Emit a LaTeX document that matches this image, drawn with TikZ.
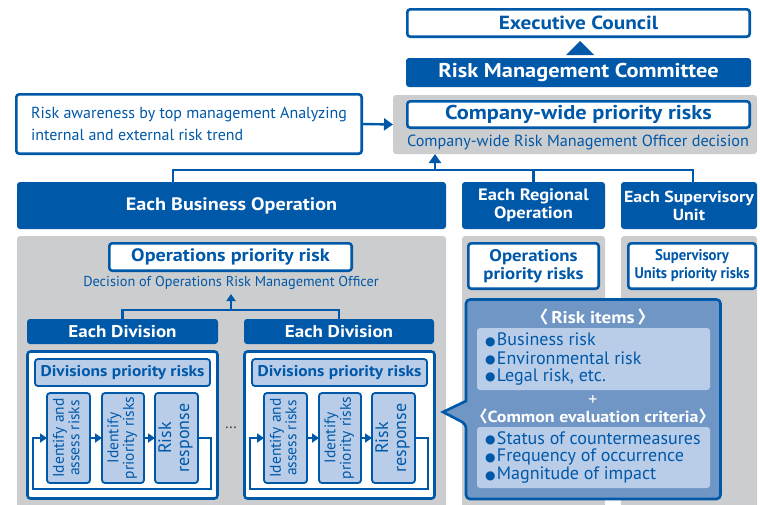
\documentclass[tikz,border=0pt]{standalone}
\usepackage{fontspec}
\setmainfont{PT Sans}[BoldFeatures={FakeStretch=1.12}]
\newfontfamily\dejavu{DejaVu Sans}
\newfontfamily\cjk{Noto Sans CJK JP}
\usetikzlibrary{arrows.meta,calc}
\definecolor{cblue}{RGB}{0,88,168}
\definecolor{cgray}{RGB}{204,205,206}
\definecolor{clight}{RGB}{185,205,233}
\definecolor{cmid}{RGB}{112,150,198}
\newcommand\fs[2]{\fontsize{#1}{#2}\selectfont}
\newcommand\sx[2]{\scalebox{#1}[1]{#2}}
\newcommand\bx[7]{\node[#2, minimum width={(#5)-(#3)}, minimum height={(#6)-(#4)}] (#1) at ({((#3)+(#5))/2},{((#4)+(#6))/2}) {#7};}
\newcommand\bul{\raisebox{0.5pt}{\dejavu\fs{12}{12}●}\hspace{1.5pt}}
\newcommand\lb{{\cjk 〈}}
\newcommand\rb{{\cjk 〉}}
\begin{document}
\begin{tikzpicture}[x=1pt,y=-1pt,
  base/.style={inner sep=0pt, outer sep=0pt, align=center},
  bluebox/.style={base, fill=cblue, rounded corners=3pt, text=white, font=\bfseries},
  whitebox/.style={base, draw=cblue, line width=2.6pt, fill=white, rounded corners=3pt, text=cblue, font=\bfseries},
  lightbox/.style={base, draw=cblue, line width=1.8pt, fill=clight, rounded corners=3pt, text=cblue},
  panel/.style={base, fill=cgray, rounded corners=3pt},
  innerl/.style={base, fill=clight, rounded corners=3pt},
  label/.style={base, text=cblue},
  item/.style={base, text=cblue, anchor=west, font=\fs{18}{18}},
  conn/.style={draw=cblue, line width=2.4pt},
  tipbig/.style={-{Triangle[length=9pt,width=12pt]}},
  tipsmall/.style={-{Triangle[length=7pt,width=9pt]}}
]
\useasboundingbox (0,0) rectangle (760,504);

% top
\bx{ec}{whitebox, font=\fs{19}{20}\bfseries}{407.3}{9.3}{749.7}{36.7}{Executive Council}
\bx{rmc}{bluebox, font=\fs{20}{20}\bfseries}{406}{58}{751}{87}{Risk Management Committee}
\path[fill=cblue] (566,55) -- (594,55) -- (580,41) -- cycle;

\bx{cwp}{panel}{393}{95}{757}{154}{}
\bx{cw}{whitebox, font=\fs{20}{21}\bfseries}{407.3}{101.3}{749.7}{127.7}{Company-wide priority risks}
\node[label, font=\fs{16.2}{17}] (cwo) at (578,142) {Company-wide Risk Management Officer decision};

\bx{aw}{whitebox, font=\fs{16}{22}, align=left}{16.3}{94.3}{361.7}{153.7}{Risk awareness by top management Analyzing\\internal and external risk trend}
\draw[conn, tipbig] (aw.east) -- (cwp.west);

% tier 2
\bx{ebo}{bluebox, font=\fs{18}{19}\bfseries}{17}{182}{446}{229}{Each Business Operation}
\bx{ero}{bluebox, font=\fs{16.5}{18}\bfseries}{462}{182}{605}{229}{Each Regional\\Operation}
\bx{esu}{bluebox, font=\fs{16}{18}\bfseries}{621}{182}{757}{229}{Each Supervisory\\Unit}

\coordinate (jl) at (173,170);
\coordinate (jm) at (435,170);
\coordinate (jr) at (693,170);
\draw[conn] (ebo.north -| jl) -- (jl) -- (jr) -- (esu.north -| jr);
\draw[conn] (ero.north) -- (ero.north |- jl);
\draw[conn, tipbig] (jm) -- (cwp.south -| jm);

% panels
\bx{bp}{panel}{17}{236}{446}{512}{}
\bx{rp}{panel}{462}{236}{605}{512}{}
\bx{sp}{panel}{621}{236}{757}{512}{}

\bx{opr}{whitebox, font=\fs{18}{19}\bfseries}{109.3}{243.3}{351.7}{270.7}{Operations priority risk}
\node[label, font=\fs{14.3}{16}] (dec) at (231,283) {Decision of Operations Risk Management Officer};

\bx{rpr}{whitebox, font=\fs{16.8}{18.5}\bfseries}{468.3}{243.3}{598.7}{288.7}{Operations\\priority risks}
\bx{spr}{whitebox, font=\fs{15.5}{18}\bfseries}{628.3}{243.3}{755.7}{288.7}{\sx{0.85}{Supervisory}\\\sx{0.85}{Units priority risks}}

% divisions
\bx{d1}{bluebox, font=\fs{17}{18}\bfseries}{27}{319}{218}{344}{Each Division}
\bx{d2}{bluebox, font=\fs{17}{18}\bfseries}{244}{319}{434}{344}{Each Division}
\coordinate (jd) at (231,310);
\coordinate (jdt) at (231,294);
\draw[conn] (d1.north) -- (d1.north |- jd) -- (d2.north |- jd) -- (d2.north);
\draw[conn, tipsmall] (jd) -- (jdt);

\foreach \i/\ox in {1/0, 2/217}{
  \bx{f\i}{whitebox}{27.5+\ox}{351.5}{217.5+\ox}{498.5}{}
  \bx{p\i}{lightbox, font=\fs{15.5}{17}\bfseries}{35+\ox}{359}{210+\ox}{386}{Divisions priority risks}
  \bx{a\i}{lightbox, font=\fs{15.5}{15.5}}{47+\ox}{393}{90+\ox}{483}{\rotatebox{90}{\begin{tabular}{@{}c@{}}Identify and\\assess risks\end{tabular}}}
  \bx{b\i}{lightbox, font=\fs{15.5}{15.5}}{102+\ox}{393}{144+\ox}{483}{\rotatebox{90}{\begin{tabular}{@{}c@{}}Identify\\priority risks\end{tabular}}}
  \bx{c\i}{lightbox, font=\fs{18}{18}}{155+\ox}{393}{198+\ox}{483}{\rotatebox{90}{\begin{tabular}{@{}c@{}}Risk\\response\end{tabular}}}
  \draw[conn, tipsmall] (a\i.east) -- (b\i.west);
  \draw[conn, tipsmall] (b\i.east) -- (c\i.west);
  \draw[conn, tipsmall] (c\i.east) -- ++(13,0) |- (33+\ox,489) |- (a\i.west);
}
\node[base, text=black!75, font=\fs{16}{16}] (dots) at (231,428) {…};

% callout
\draw[draw=cblue, line width=2.6pt, fill=cmid, rounded corners=4pt]
  (466,401) -- (466,299.5) -- (720.5,299.5) -- (720.5,499) -- (466,499) -- (466,424) [sharp corners] -- (443,412) -- cycle;
\coordinate (ptr) at (443,412);
\node[base, text=white, font=\fs{17}{19}\bfseries] (h1) at (593,317) {\lb\,Risk items\,\rb};
\bx{l1}{innerl}{477}{328}{710}{390}{}
\node[item] (i1) at (485,340) {\bul Business risk};
\node[item] (i2) at (485,358.5) {\bul Environmental risk};
\node[item] (i3) at (485,377) {\bul Legal risk, etc.};
\node[base, text=white, font=\fs{18}{18}] (plus) at (593,400) {+};
\node[base, text=white, font=\fs{16}{19}\bfseries] (h2) at (593,416) {\lb Common evaluation criteria\rb};
\bx{l2}{innerl}{477}{427}{710}{488}{}
\node[item] (j1) at (485,438.5) {\bul Status of countermeasures};
\node[item] (j2) at (485,457) {\bul Frequency of occurrence};
\node[item] (j3) at (485,475.5) {\bul Magnitude of impact};
\end{tikzpicture}
\end{document}
